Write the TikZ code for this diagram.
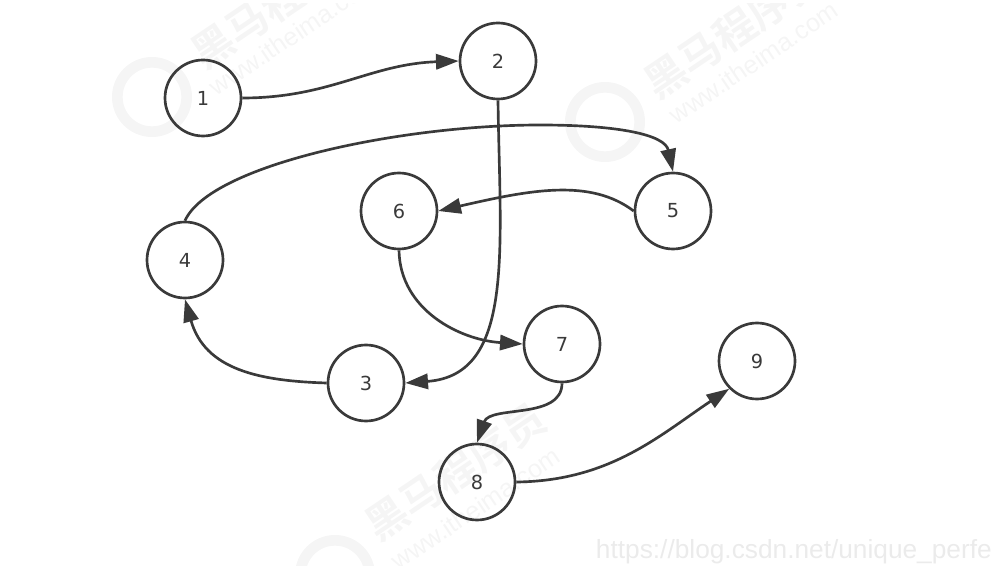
\documentclass[tikz,border=0pt]{standalone}
\usepackage{fontspec}
\setmainfont{DejaVu Sans}
\newfontfamily\cjkfont{Noto Sans CJK SC}[BoldFont={* Bold}]
\newfontfamily\urlfont{Liberation Sans}
\usepackage{xcolor}
\usetikzlibrary{arrows.meta, positioning}

\definecolor{inkgray}{HTML}{3A3A3A}
\definecolor{markgray}{HTML}{F5F5F5}
\definecolor{urlgray}{HTML}{EBEBEB}

\begin{document}
\begin{tikzpicture}[
            x=0.75pt,
            y=-0.75pt,
            number node/.style={
                    draw=inkgray,
                    circle,
                    line width=2pt,
                    minimum size=57pt,
                    inner sep=0pt,
                    text=inkgray,
                    font=\fontsize{14.5}{16}\selectfont
                },
            connecting line/.style={
                    draw=inkgray,
                    line width=2pt,
                    -{Triangle[length=17pt,width=11.5pt]}
                },
            mark title/.style={
                    text=markgray,
                    rotate=34,
                    anchor=west,
                    font=\cjkfont\bfseries\fontsize{31}{33}\selectfont
                },
            mark site/.style={
                    text=markgray,
                    rotate=34,
                    anchor=west,
                    font=\urlfont\fontsize{19}{21}\selectfont
                },
            mark logo/.style={
                    draw=markgray,
                    circle,
                    line width=8pt,
                    minimum size=52pt
                },
            url label/.style={
                    text=urlgray,
                    anchor=east,
                    inner sep=0pt,
                    font=\urlfont\fontsize{19.7}{22}\selectfont
                }
        ]

        \useasboundingbox (0,0) rectangle (995,566);

        % Watermarks
        \begin{scope}
            \clip (0,4) rectangle (995,566);
            \foreach \n/\lx/\ly/\tx/\ty/\sx/\sy in {a/152/97/192/60/208/92, b/605/122/645/90/668/120, c/335/575/366/532/390/566} {
                    \node[mark logo] (logo-\n) at (\lx,\ly) {};
                    \node[mark title] (title-\n) at (\tx,\ty) {黑马程序员};
                    \node[mark site] (site-\n) at (\sx,\sy) {www.itheima.com};
                }
        \end{scope}

        % Numbered nodes
        \foreach \i/\x/\y in {1/203/98, 2/498/61, 3/366/383, 4/185/260, 5/673/211, 6/399/211, 7/562/344, 8/477/482, 9/757/361} {
                \node[number node] (node-\i) at (\x,\y) {\i};
            }

        % Connections
        \draw[connecting line] (node-1.east) .. controls (330,98) and (370,64) .. (node-2.west);
        \draw[connecting line] (node-2.south) .. controls (500,250) and (515,375) .. (node-3.east);
        \draw[connecting line] (node-3.west) .. controls (260,381) and (205,370) .. (node-4.south);
        \draw[connecting line] (node-4.north) .. controls (210,165) and (400,125) .. (540,125) .. controls (620,125) and (665,135) .. (node-5.north);
        \draw[connecting line] (node-5.west) .. controls (590,178) and (530,190) .. (node-6.east);
        \draw[connecting line] (node-6.south) .. controls (400,310) and (460,340) .. (node-7.west);
        \draw[connecting line] (node-7.south) .. controls (562,420) and (490,405) .. (node-8.north);
        \draw[connecting line] (node-8.east) .. controls (610,481) and (660,435) .. (node-9.south west);

        % Url label
        \node[url label] (url) at (992,552) {https://blog.csdn.net/unique\_perfe};

    \end{tikzpicture}
\end{document}
